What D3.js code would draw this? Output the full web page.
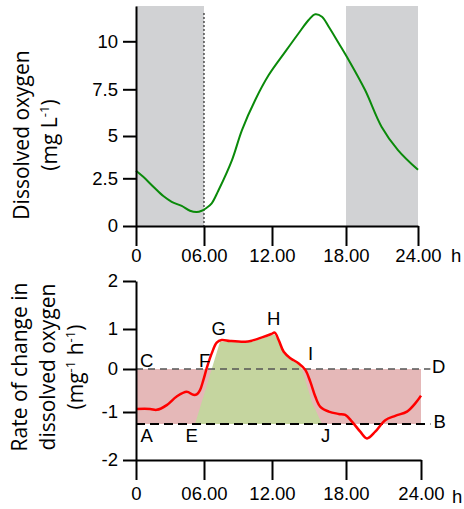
<!DOCTYPE html>
<html>
<head>
<meta charset="utf-8">
<script src="https://cdn.jsdelivr.net/npm/d3@7"></script>
<style>
  html, body { margin: 0; padding: 0; background: #fff; }
  svg { display: block; }
</style>
</head>
<body>
<svg id="chart" width="464" height="509"></svg>
<script>
// Hours of the day and their tick labels
const hourTicks = [0, 6, 12, 18, 24];
const hourLabels = ["0", "06.00", "12.00", "18.00", "24.00"];

// Dissolved oxygen axis (mg L-1)
const doTicks = [0, 2.5, 5, 7.5, 10];
const doLabels = ["0", "2.5", "5", "7.5", "10"];
const doMax = 11.84;

// Rate of change axis (mg-1 h-1)
const rateTicks = [-2, -1, 0, 1, 2];
const rateLabels = ["-2", "-1", "0", "1", "2"];

// Dark periods (hours)
const nights = [[0, 6], [18, 24]];

// Dissolved oxygen over the day
const doTime  = [0, 0.64, 1.53, 2.41, 3.15, 4.03, 4.76, 5.36, 5.80, 6.18, 6.68, 7.26, 8.47, 9.35, 10.52, 11.71, 13.08, 14.16, 14.97, 15.51, 16.05, 16.60, 17.41, 18.22, 19.59, 20.96, 22.33, 24];
const doValue = [2.95, 2.59, 2.06, 1.57, 1.27, 1.05, 0.80, 0.73, 0.80, 0.93, 1.19, 1.85, 3.58, 5.32, 6.93, 8.24, 9.46, 10.42, 11.11, 11.41, 11.28, 10.76, 9.90, 9.03, 7.46, 5.50, 4.17, 3.0];

// Rate of change in dissolved oxygen
const rateTime  = [0, 1.24, 1.83, 2.71, 3.59, 4.47, 5.06, 5.36, 5.65, 5.94, 6.24, 6.68, 7.12, 7.56, 8.29, 9.64, 10.24, 11.12, 11.94, 12.22, 12.54, 12.95, 13.49, 14.17, 14.70, 15.11, 15.51, 15.92, 16.60, 17.41, 17.94, 18.48, 19.14, 19.68, 20.34, 21.14, 21.94, 22.88, 23.54, 24];
const rateValue = [-0.93, -0.93, -0.95, -0.84, -0.64, -0.53, -0.60, -0.59, -0.49, -0.26, 0.02, 0.39, 0.66, 0.725, 0.70, 0.68, 0.71, 0.79, 0.875, 0.91, 0.725, 0.43, 0.27, 0.14, -0.02, -0.30, -0.64, -0.88, -0.99, -1.04, -1.06, -1.20, -1.41, -1.55, -1.41, -1.17, -1.08, -0.99, -0.80, -0.62];

// Respiration band (C-D to A-B) and its extent in hours
const bandTop = 0;
const bandBottom = -1.25;
const bandHours = [0, 24];
const guideEnd = 24.75;

// Net photosynthesis area (E-F-G-H-I-J)
const photoTime  = [5.21, 7.41, 8.0, 8.47, 9.64, 10.24, 11.12, 11.94, 12.2, 12.54, 12.95, 13.49, 14.17, 14.43, 14.8, 15.24, 16.05];
const photoValue = [-1.25, 0.68, 0.68, 0.69, 0.65, 0.68, 0.76, 0.84, 0.87, 0.69, 0.40, 0.24, 0.11, 0.0, -0.35, -0.77, -1.25];

// Point letters placed at (hour, rate)
const letterNames = ["C", "F", "A", "E", "G", "H", "I", "D", "B", "J"];
const letterHour  = [0.35, 5.56, 0.40, 4.37, 6.66, 11.56, 14.92, 24.88, 25.0, 15.97];
const letterRate  = [0.05, 0.05, -1.625, -1.625, 0.85, 1.075, 0.225, -0.093, -1.333, -1.625];

const svg = d3.select("#chart");
const tickFont = "'Liberation Sans', Arial, sans-serif";
const titleFont = "'Open Sans', 'Noto Sans', sans-serif";
const smooth = d3.curveCatmullRom.alpha(0.5);

// ---------- Upper panel: dissolved oxygen ----------
const xUp = d3.scaleLinear().domain(hourTicks).range([136, 204, 272, 346, 418]);
const yUp = d3.scaleLinear().domain([...doTicks, doMax]).range([226, 178.3, 136, 89.3, 41.3, 6]);

const upper = svg.append("g");

upper.selectAll("rect.night")
  .data(nights)
  .join("rect")
  .attr("class", "night")
  .attr("x", d => xUp(d[0]))
  .attr("width", d => xUp(d[1]) - xUp(d[0]))
  .attr("y", yUp(doMax))
  .attr("height", yUp(0) - yUp(doMax))
  .attr("fill", "#d1d2d4");

// dawn marker
upper.append("line")
  .attr("x1", xUp(6)).attr("x2", xUp(6))
  .attr("y1", yUp(doMax) + 7).attr("y2", yUp(0))
  .attr("stroke", "#000").attr("stroke-width", 1)
  .attr("stroke-dasharray", "2,2");

upper.append("path")
  .datum(doTime.map((t, i) => [t, doValue[i]]))
  .attr("fill", "none")
  .attr("stroke", "#0a8a0a")
  .attr("stroke-width", 2)
  .attr("d", d3.line().x(d => xUp(d[0])).y(d => yUp(d[1])).curve(smooth));

function styleAxis(g) {
  g.attr("font-family", tickFont).attr("font-size", 18.5);
  g.selectAll("path.domain").attr("stroke", "#000").attr("stroke-width", 2);
  g.selectAll(".tick line").attr("stroke", "#000").attr("stroke-width", 2);
  g.selectAll(".tick text").attr("fill", "#000");
}

upper.append("g")
  .attr("transform", `translate(0,${yUp(0)})`)
  .call(d3.axisBottom(xUp).tickValues(hourTicks).tickFormat((d, i) => hourLabels[i])
    .tickSize(20).tickSizeOuter(0).tickPadding(3))
  .call(styleAxis);

upper.append("g")
  .attr("transform", `translate(${xUp(0)},0)`)
  .call(d3.axisLeft(yUp).tickValues(doTicks).tickFormat((d, i) => doLabels[i])
    .tickSize(13).tickSizeOuter(0).tickPadding(5))
  .call(styleAxis);

upper.append("text")
  .attr("x", xUp(24) + 33).attr("y", yUp(0) + 36)
  .attr("font-family", tickFont).attr("font-size", 18.5)
  .text("h");

// y title
const upTitle = upper.append("text")
  .attr("transform", "translate(0,135) rotate(-90)")
  .attr("text-anchor", "middle")
  .attr("font-family", titleFont).attr("font-size", 21);
upTitle.append("tspan").attr("x", 0).attr("y", 28.5).text("Dissolved oxygen");
const upUnit = upTitle.append("tspan").attr("x", 0).attr("y", 57);
upUnit.append("tspan").text("(mg L");
upUnit.append("tspan").attr("font-size", 13).attr("dy", -8).text("-1");
upUnit.append("tspan").attr("dy", 8).text(")");

// ---------- Lower panel: rate of change ----------
const xLo = d3.scaleLinear().domain(hourTicks).range([136, 204, 272, 346, 421]);
const yLo = d3.scaleLinear().domain(rateTicks).range([460, 412, 369, 329, 281]);

const lower = svg.append("g");

lower.append("rect")
  .attr("x", xLo(bandHours[0]))
  .attr("width", xLo(bandHours[1]) - xLo(bandHours[0]))
  .attr("y", yLo(bandTop))
  .attr("height", yLo(bandBottom) - yLo(bandTop))
  .attr("fill", "#e5b8b8");

lower.append("path")
  .datum(photoTime.map((t, i) => [t, photoValue[i]]))
  .attr("fill", "#c5d59f")
  .attr("d", d3.area().x(d => xLo(d[0])).y0(yLo(bandBottom)).y1(d => yLo(d[1])));

lower.append("line")
  .attr("x1", xLo(0)).attr("x2", xLo(guideEnd))
  .attr("y1", yLo(bandTop)).attr("y2", yLo(bandTop))
  .attr("stroke", "#555").attr("stroke-width", 1.5)
  .attr("stroke-dasharray", "7,5");

lower.append("line")
  .attr("x1", xLo(0)).attr("x2", xLo(guideEnd))
  .attr("y1", yLo(bandBottom)).attr("y2", yLo(bandBottom))
  .attr("stroke", "#000").attr("stroke-width", 2)
  .attr("stroke-dasharray", "9,5");

lower.append("path")
  .datum(rateTime.map((t, i) => [t, rateValue[i]]))
  .attr("fill", "none")
  .attr("stroke", "#ff0000")
  .attr("stroke-width", 2.5)
  .attr("d", d3.line().x(d => xLo(d[0])).y(d => yLo(d[1])).curve(smooth));

lower.append("g")
  .attr("transform", `translate(0,${yLo(-2)})`)
  .call(d3.axisBottom(xLo).tickValues(hourTicks).tickFormat((d, i) => hourLabels[i])
    .tickSize(20).tickSizeOuter(0).tickPadding(7))
  .call(styleAxis);

lower.append("g")
  .attr("transform", `translate(${xLo(0)},0)`)
  .call(d3.axisLeft(yLo).tickValues(rateTicks).tickFormat((d, i) => rateLabels[i])
    .tickSize(13).tickSizeOuter(0).tickPadding(5))
  .call(styleAxis);

lower.append("text")
  .attr("x", xLo(24) + 31).attr("y", yLo(-2) + 43)
  .attr("font-family", tickFont).attr("font-size", 18.5)
  .text("h");

lower.selectAll("text.letter")
  .data(letterNames)
  .join("text")
  .attr("class", "letter")
  .attr("x", (d, i) => xLo(letterHour[i]))
  .attr("y", (d, i) => yLo(letterRate[i]))
  .attr("font-family", tickFont).attr("font-size", 18.5)
  .text(d => d);

const loTitle = lower.append("text")
  .attr("transform", "translate(0,367) rotate(-90)")
  .attr("text-anchor", "middle")
  .attr("font-family", titleFont).attr("font-size", 21);
loTitle.append("tspan").attr("x", 0).attr("y", 27).text("Rate of change in");
loTitle.append("tspan").attr("x", 0).attr("y", 55).text("dissolved oxygen");
const loUnit = loTitle.append("tspan").attr("x", 0).attr("y", 83);
loUnit.append("tspan").text("(mg");
loUnit.append("tspan").attr("font-size", 13).attr("dy", -8).text("-1");
loUnit.append("tspan").attr("dy", 8).text(" h");
loUnit.append("tspan").attr("font-size", 13).attr("dy", -8).text("-1");
loUnit.append("tspan").attr("dy", 8).text(")");
</script>
</body>
</html>
